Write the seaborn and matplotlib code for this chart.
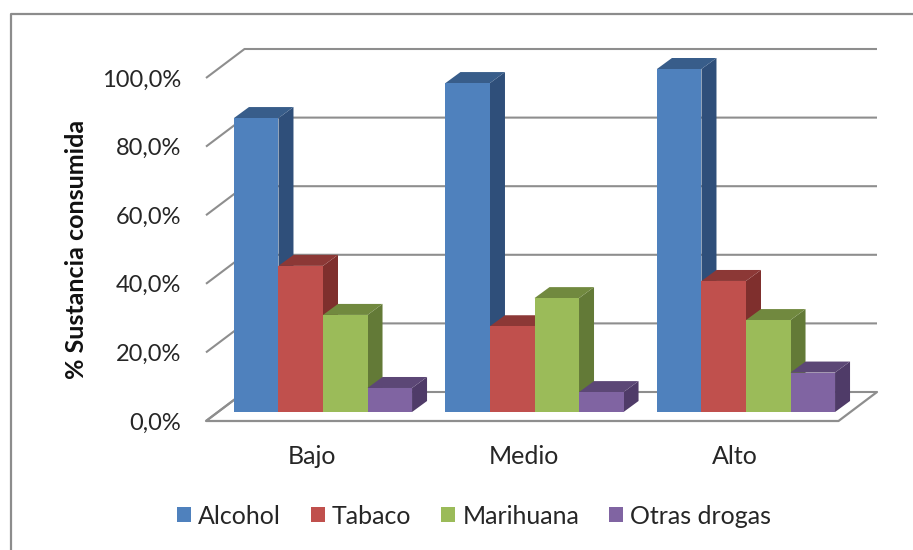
import pandas as pd
import matplotlib
matplotlib.use("Agg")
import matplotlib.pyplot as plt
from matplotlib.lines import Line2D
from matplotlib.patches import Polygon
import seaborn as sns

# data
niveles = ['Bajo', 'Medio', 'Alto']
sustancias = ['Alcohol', 'Tabaco', 'Marihuana', 'Otras drogas']
alcohol = [85.7, 95.9, 100.0]
tabaco = [42.6, 25.0, 38.2]
marihuana = [28.3, 33.2, 26.8]
otras = [7.0, 5.8, 11.5]
tick_values = [0, 20, 40, 60, 80, 100]
tick_labels = ['0,0%', '20,0%', '40,0%', '60,0%', '80,0%', '100,0%']

frente = ['#4F81BD', '#C0504D', '#9BBB59', '#8064A2']
arriba = ['#385D8A', '#8C3836', '#71893F', '#5C4776']
lado = ['#2F4F7A', '#7F2F2D', '#637A37', '#4F3B68']

sns.set_theme(style="white")
plt.rcParams['font.family'] = ['Lato', 'DejaVu Sans']

dataset = pd.DataFrame({'Alcohol': alcohol, 'Tabaco': tabaco,
                        'Marihuana': marihuana, 'Otras drogas': otras}, index=niveles)
dataset = dataset.reset_index(names='nivel').melt(id_vars='nivel', var_name='sustancia', value_name='pct')

W, H = 913, 550
fig = plt.figure(figsize=(W / 100, H / 100), dpi=100)
ax = fig.add_axes([206 / W, 1 - 421 / H, (877 - 206) / W, (421 - 49) / H])

# only the left and top border of the frame are in the picture
fig.add_artist(Line2D([10.5 / W, 10.5 / W, 1], [0, 1 - 13.5 / H, 1 - 13.5 / H],
                      color='#8C8C8C', lw=1.6, transform=fig.transFigure))

sns.barplot(data=dataset, x='nivel', y='pct', hue='sustancia', order=niveles, hue_order=sustancias,
            palette=frente, width=0.842, saturation=1, linewidth=0, ax=ax)

# scale: 211.5 px per category, 3.43 px per percent, bar base at pixel 412
px_x = 211.5
px_y = 3.43
ax.set_xlim(-(323 - 206) / px_x, (877 - 323) / px_x)
ax.set_ylim(-(421 - 412) / px_y, (412 - 49) / px_y)

base = -(421 - 412) / px_y
wall_dx = 38.5 / px_x
wall_dy = 29 / px_y
bar_dx = 15 / px_x
bar_dy = 11 / px_y
gris = '#8E8E8E'

# walls: diagonal from the front tick then the line along the back
x0 = ax.get_xlim()[0]
x1 = ax.get_xlim()[1]
for v in tick_values:
    ax.plot([x0, x0 + wall_dx, x1], [base + v, base + v + wall_dy, base + v + wall_dy],
            color=gris, lw=1.5, zorder=1, clip_on=False, solid_capstyle='butt')

# floor
ax.plot([x0 + wall_dx, x0, x1 - wall_dx, x1], [base + wall_dy, base, base, base + wall_dy],
        color=gris, lw=1.6, zorder=1, clip_on=False)

# depth faces for every bar, left to right so the next bar covers the side
bars = []
for k, cont in enumerate(ax.containers):
    for b in cont:
        bars.append((b.get_x(), k, b))
bars.sort(key=lambda t: t[0])

z = 2
for x, k, b in bars:
    w = b.get_width()
    h = b.get_height()
    ax.add_patch(Polygon([(x + w, 0), (x + w + bar_dx, bar_dy), (x + w + bar_dx, h + bar_dy), (x + w, h)],
                         closed=True, facecolor=lado[k], edgecolor='none', zorder=z))
    ax.add_patch(Polygon([(x, h), (x + bar_dx, h + bar_dy), (x + w + bar_dx, h + bar_dy), (x + w, h)],
                         closed=True, facecolor=arriba[k], edgecolor='none', zorder=z))
    b.set_zorder(z + 0.5)
    z += 1

ax.set_yticks([base + v for v in tick_values])
ax.set_yticklabels(tick_labels, fontsize=17, color='#262626')
ax.set_xticks([i - 11 / px_x for i in range(len(niveles))])
ax.set_xticklabels(niveles, fontsize=18, color='#262626')
ax.tick_params(axis='y', length=0, pad=18)
ax.tick_params(axis='x', length=0, pad=17)
ax.set_xlabel('')
ax.set_ylabel('')
sns.despine(ax=ax, left=True, bottom=True)
ax.patch.set_alpha(0)

fig.text(77 / W, 1 - 249 / H, '% Sustancia consumida', rotation=90, ha='center', va='center',
         fontsize=18, fontweight='bold', color='#111111')

sns.move_legend(ax, 'center', bbox_to_anchor=(474 / W, 1 - 516 / H), bbox_transform=fig.transFigure,
                ncol=4, frameon=False, title=None, fontsize=18, handlelength=0.56, handleheight=0.56,
                handletextpad=0.28, columnspacing=1.2, labelcolor='#262626')

fig.savefig('out.png', dpi=100)
